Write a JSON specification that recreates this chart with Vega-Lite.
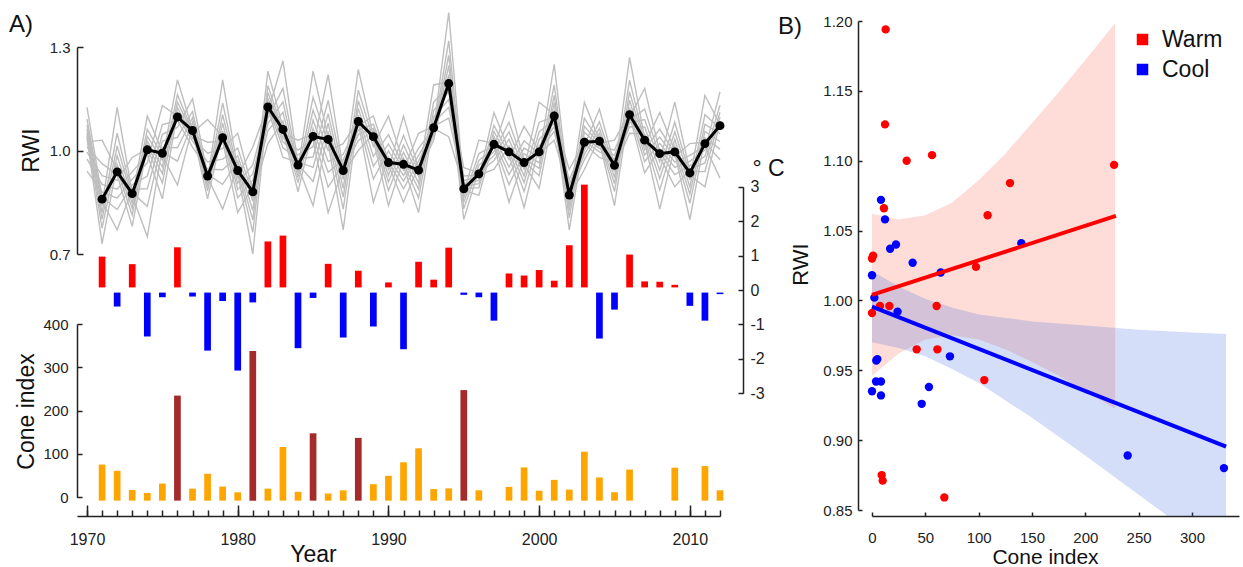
{
"$schema": "https://vega.github.io/schema/vega-lite/v6.json",
"width": 1166,
"height": 506,
"autosize": {"type": "none"},
"padding": {"left": 77, "top": 10, "right": 0, "bottom": 51},
"background": "white",
"config": {
  "font": "Liberation Sans",
  "view": {"stroke": null},
  "axis": {"grid": false, "domainColor": "#222", "domainWidth": 1.5, "tickColor": "#222", "tickWidth": 1.5, "labelColor": "#222", "labelFontSize": 15, "labelFlush": false, "labelOverlap": false, "titleFontWeight": "normal", "titleColor": "#111"}
},
"datasets": {
  "years": [
    {"year":1971,"rwi":0.859,"temp":0.97,"cone":67.8,"regime":"Warm","mast":"no"},
    {"year":1972,"rwi":0.938,"temp":-0.48,"cone":53.4,"regime":"Cool","mast":"no"},
    {"year":1973,"rwi":0.875,"temp":0.75,"cone":9.1,"regime":"Warm","mast":"no"},
    {"year":1974,"rwi":1.002,"temp":-1.35,"cone":2.2,"regime":"Cool","mast":"no"},
    {"year":1975,"rwi":0.992,"temp":-0.21,"cone":24,"regime":"Cool","mast":"no"},
    {"year":1976,"rwi":1.097,"temp":1.24,"cone":227,"regime":"Warm","mast":"yes"},
    {"year":1977,"rwi":1.058,"temp":-0.19,"cone":12.2,"regime":"Cool","mast":"no"},
    {"year":1978,"rwi":0.926,"temp":-1.76,"cone":46.6,"regime":"Cool","mast":"no"},
    {"year":1979,"rwi":1.037,"temp":-0.32,"cone":17,"regime":"Cool","mast":"no"},
    {"year":1980,"rwi":0.942,"temp":-2.34,"cone":3.8,"regime":"Cool","mast":"no"},
    {"year":1981,"rwi":0.880,"temp":-0.36,"cone":330,"regime":"Cool","mast":"yes"},
    {"year":1982,"rwi":1.126,"temp":1.41,"cone":12.2,"regime":"Warm","mast":"no"},
    {"year":1983,"rwi":1.061,"temp":1.58,"cone":108.4,"regime":"Warm","mast":"no"},
    {"year":1984,"rwi":0.958,"temp":-1.69,"cone":5,"regime":"Cool","mast":"no"},
    {"year":1985,"rwi":1.041,"temp":-0.23,"cone":140,"regime":"Cool","mast":"yes"},
    {"year":1986,"rwi":1.032,"temp":0.76,"cone":1,"regime":"Warm","mast":"no"},
    {"year":1987,"rwi":0.942,"temp":-1.38,"cone":8.4,"regime":"Cool","mast":"no"},
    {"year":1988,"rwi":1.084,"temp":0.56,"cone":129.4,"regime":"Warm","mast":"yes"},
    {"year":1989,"rwi":1.040,"temp":-1.06,"cone":22.5,"regime":"Cool","mast":"no"},
    {"year":1990,"rwi":0.965,"temp":0.22,"cone":41.9,"regime":"Warm","mast":"no"},
    {"year":1991,"rwi":0.960,"temp":-1.72,"cone":73.1,"regime":"Cool","mast":"no"},
    {"year":1992,"rwi":0.943,"temp":0.82,"cone":105.3,"regime":"Warm","mast":"no"},
    {"year":1993,"rwi":1.066,"temp":0.30,"cone":11.2,"regime":"Warm","mast":"no"},
    {"year":1994,"rwi":1.194,"temp":1.23,"cone":12.8,"regime":"Warm","mast":"no"},
    {"year":1995,"rwi":0.889,"temp":-0.14,"cone":239.7,"regime":"Cool","mast":"yes"},
    {"year":1996,"rwi":0.932,"temp":-0.21,"cone":8.4,"regime":"Cool","mast":"no"},
    {"year":1997,"rwi":1.018,"temp":-0.89,"cone":0,"regime":"Cool","mast":"no"},
    {"year":1998,"rwi":0.996,"temp":0.48,"cone":16.3,"regime":"Warm","mast":"no"},
    {"year":1999,"rwi":0.965,"temp":0.42,"cone":61.3,"regime":"Warm","mast":"no"},
    {"year":2000,"rwi":0.996,"temp":0.58,"cone":7.5,"regime":"Warm","mast":"no"},
    {"year":2001,"rwi":1.100,"temp":0.27,"cone":32.5,"regime":"Warm","mast":"no"},
    {"year":2002,"rwi":0.871,"temp":1.30,"cone":10,"regime":"Warm","mast":"no"},
    {"year":2003,"rwi":1.024,"temp":3.06,"cone":97.5,"regime":"Warm","mast":"no"},
    {"year":2004,"rwi":1.027,"temp":-1.41,"cone":38.1,"regime":"Cool","mast":"no"},
    {"year":2005,"rwi":0.957,"temp":-0.57,"cone":4,"regime":"Cool","mast":"no"},
    {"year":2006,"rwi":1.104,"temp":1.03,"cone":56.3,"regime":"Warm","mast":"no"},
    {"year":2007,"rwi":1.030,"temp":0.25,"cone":0,"regime":"Warm","mast":"no"},
    {"year":2008,"rwi":0.991,"temp":0.24,"cone":0,"regime":"Warm","mast":"no"},
    {"year":2009,"rwi":0.996,"temp":0.15,"cone":60.6,"regime":"Warm","mast":"no"},
    {"year":2010,"rwi":0.935,"temp":-0.46,"cone":0,"regime":"Cool","mast":"no"},
    {"year":2011,"rwi":1.020,"temp":-0.89,"cone":64.4,"regime":"Cool","mast":"no"},
    {"year":2012,"rwi":1.072,"temp":-0.12,"cone":8.4,"regime":"Cool","mast":"no"}
  ],
  "rings": [
    {"year":1970,"g1":1.125,"g2":1.091,"g3":1.074,"g4":1.061,"g5":1.050,"g6":1.043,"g7":1.035,"g8":1.025,"g9":1.010,"g10":0.995,"g11":0.975,"g12":0.940},
    {"year":1971,"g1":0.864,"g2":0.853,"g3":0.840,"g4":0.820,"g5":0.801,"g6":0.775,"g7":0.730,"g8":1.030,"g9":0.962,"g10":0.927,"g11":0.902,"g12":0.880},
    {"year":1972,"g1":0.829,"g2":0.770,"g3":1.125,"g4":1.050,"g5":1.013,"g6":0.985,"g7":0.960,"g8":0.944,"g9":0.930,"g10":0.913,"g11":0.888,"g12":0.862},
    {"year":1973,"g1":0.901,"g2":0.888,"g3":0.878,"g4":0.870,"g5":0.861,"g6":0.847,"g7":0.832,"g8":0.813,"g9":0.780,"g10":0.980,"g11":0.938,"g12":0.917},
    {"year":1974,"g1":0.926,"g2":0.889,"g3":0.838,"g4":0.750,"g5":1.100,"g6":1.061,"g7":1.041,"g8":1.027,"g9":1.014,"g10":1.005,"g11":0.989,"g12":0.964},
    {"year":1975,"g1":1.075,"g2":1.047,"g3":1.027,"g4":1.009,"g5":0.996,"g6":0.985,"g7":0.972,"g8":0.952,"g9":0.933,"g10":0.906,"g11":0.860,"g12":1.130},
    {"year":1976,"g1":1.087,"g2":1.067,"g3":1.038,"g4":1.008,"g5":0.969,"g6":0.900,"g7":1.205,"g8":1.162,"g9":1.140,"g10":1.124,"g11":1.110,"g12":1.100},
    {"year":1977,"g1":1.010,"g2":1.150,"g3":1.113,"g4":1.095,"g5":1.081,"g6":1.069,"g7":1.061,"g8":1.056,"g9":1.051,"g10":1.044,"g11":1.036,"g12":1.027},
    {"year":1978,"g1":0.946,"g2":0.931,"g3":0.923,"g4":0.916,"g5":0.906,"g6":0.896,"g7":0.883,"g8":0.860,"g9":1.090,"g10":1.024,"g11":0.992,"g12":0.967},
    {"year":1979,"g1":0.944,"g2":0.902,"g3":0.830,"g4":1.205,"g5":1.138,"g6":1.104,"g7":1.079,"g8":1.057,"g9":1.042,"g10":1.027,"g11":1.006,"g12":0.975},
    {"year":1980,"g1":0.985,"g2":0.969,"g3":0.955,"g4":0.945,"g5":0.936,"g6":0.924,"g7":0.905,"g8":0.887,"g9":0.863,"g10":0.820,"g11":1.050,"g12":1.007},
    {"year":1981,"g1":0.853,"g2":0.826,"g3":0.799,"g4":0.763,"g5":0.700,"g6":1.010,"g7":0.958,"g8":0.932,"g9":0.913,"g10":0.896,"g11":0.884,"g12":0.871},
    {"year":1982,"g1":1.230,"g2":1.188,"g3":1.168,"g4":1.152,"g5":1.138,"g6":1.129,"g7":1.121,"g8":1.110,"g9":1.094,"g10":1.078,"g11":1.057,"g12":1.020},
    {"year":1983,"g1":1.067,"g2":1.057,"g3":1.049,"g4":1.037,"g5":1.025,"g6":1.008,"g7":0.980,"g8":1.260,"g9":1.180,"g10":1.141,"g11":1.111,"g12":1.085},
    {"year":1984,"g1":0.907,"g2":0.880,"g3":1.030,"g4":1.001,"g5":0.987,"g6":0.976,"g7":0.967,"g8":0.960,"g9":0.954,"g10":0.946,"g11":0.935,"g12":0.923},
    {"year":1985,"g1":1.088,"g2":1.064,"g3":1.047,"g4":1.031,"g5":1.011,"g6":0.981,"g7":0.951,"g8":0.910,"g9":0.840,"g10":1.230,"g11":1.154,"g12":1.117},
    {"year":1986,"g1":0.968,"g2":0.937,"g3":0.894,"g4":0.820,"g5":1.220,"g6":1.145,"g7":1.107,"g8":1.079,"g9":1.055,"g10":1.038,"g11":1.021,"g12":1.000},
    {"year":1987,"g1":0.989,"g2":0.973,"g3":0.962,"g4":0.951,"g5":0.944,"g6":0.933,"g7":0.916,"g8":0.890,"g9":0.865,"g10":0.830,"g11":0.770,"g12":1.020},
    {"year":1988,"g1":1.080,"g2":1.071,"g3":1.059,"g4":1.046,"g5":1.029,"g6":1.000,"g7":1.235,"g8":1.175,"g9":1.144,"g10":1.122,"g11":1.102,"g12":1.089},
    {"year":1989,"g1":0.850,"g2":1.100,"g3":1.076,"g4":1.064,"g5":1.055,"g6":1.047,"g7":1.042,"g8":1.031,"g9":1.012,"g10":0.983,"g11":0.955,"g12":0.917},
    {"year":1990,"g1":0.981,"g2":0.969,"g3":0.959,"g4":0.946,"g5":0.928,"g6":0.909,"g7":0.884,"g8":0.840,"g9":1.100,"g10":1.046,"g11":1.019,"g12":0.999},
    {"year":1991,"g1":0.911,"g2":0.889,"g3":0.850,"g4":1.100,"g5":1.044,"g6":1.016,"g7":0.995,"g8":0.977,"g9":0.964,"g10":0.955,"g11":0.944,"g12":0.927},
    {"year":1992,"g1":0.986,"g2":0.970,"g3":0.956,"g4":0.946,"g5":0.937,"g6":0.925,"g7":0.906,"g8":0.888,"g9":0.863,"g10":0.820,"g11":1.050,"g12":1.007},
    {"year":1993,"g1":1.061,"g2":1.055,"g3":1.050,"g4":1.043,"g5":1.030,"g6":1.190,"g7":1.140,"g8":1.116,"g9":1.097,"g10":1.081,"g11":1.070,"g12":1.064},
    {"year":1994,"g1":1.400,"g2":1.318,"g3":1.276,"g4":1.246,"g5":1.219,"g6":1.200,"g7":1.186,"g8":1.171,"g9":1.148,"g10":1.125,"g11":1.094,"g12":1.040},
    {"year":1995,"g1":0.891,"g2":0.885,"g3":0.876,"g4":0.862,"g5":0.849,"g6":0.831,"g7":0.800,"g8":0.950,"g9":0.926,"g10":0.913,"g11":0.904,"g12":0.896},
    {"year":1996,"g1":0.892,"g2":0.870,"g3":1.030,"g4":0.991,"g5":0.971,"g6":0.957,"g7":0.944,"g8":0.935,"g9":0.929,"g10":0.923,"g11":0.913,"g12":0.904},
    {"year":1997,"g1":1.041,"g2":1.029,"g3":1.021,"g4":1.014,"g5":1.007,"g6":0.996,"g7":0.985,"g8":0.971,"g9":0.945,"g10":1.110,"g11":1.073,"g12":1.055},
    {"year":1998,"g1":0.952,"g2":0.930,"g3":0.901,"g4":0.850,"g5":1.140,"g6":1.082,"g7":1.054,"g8":1.032,"g9":1.013,"g10":1.000,"g11":0.989,"g12":0.974},
    {"year":1999,"g1":1.028,"g2":1.007,"g3":0.991,"g4":0.978,"g5":0.968,"g6":0.959,"g7":0.946,"g8":0.926,"g9":0.907,"g10":0.881,"g11":0.835,"g12":1.070},
    {"year":2000,"g1":0.991,"g2":0.980,"g3":0.964,"g4":0.948,"g5":0.927,"g6":0.890,"g7":1.140,"g8":1.082,"g9":1.054,"g10":1.032,"g11":1.013,"g12":1.000},
    {"year":2001,"g1":1.030,"g2":1.250,"g3":1.190,"g4":1.160,"g5":1.138,"g6":1.118,"g7":1.105,"g8":1.097,"g9":1.090,"g10":1.079,"g11":1.069,"g12":1.055},
    {"year":2002,"g1":0.880,"g2":0.873,"g3":0.866,"g4":0.856,"g5":0.841,"g6":0.826,"g7":0.805,"g8":0.770,"g9":0.945,"g10":0.915,"g11":0.901,"g12":0.890},
    {"year":2003,"g1":0.988,"g2":0.973,"g3":0.945,"g4":1.140,"g5":1.094,"g6":1.070,"g7":1.053,"g8":1.038,"g9":1.027,"g10":1.020,"g11":1.012,"g12":1.000},
    {"year":2004,"g1":1.064,"g2":1.050,"g3":1.038,"g4":1.030,"g5":1.025,"g6":1.020,"g7":1.013,"g8":1.006,"g9":0.996,"g10":0.980,"g11":1.120,"g12":1.083},
    {"year":2005,"g1":0.939,"g2":0.922,"g3":0.904,"g4":0.881,"g5":0.840,"g6":1.030,"g7":1.001,"g8":0.986,"g9":0.975,"g10":0.966,"g11":0.959,"g12":0.951},
    {"year":2006,"g1":1.270,"g2":1.204,"g3":1.170,"g4":1.146,"g5":1.124,"g6":1.109,"g7":1.101,"g8":1.096,"g9":1.088,"g10":1.080,"g11":1.069,"g12":1.050},
    {"year":2007,"g1":1.035,"g2":1.025,"g3":1.016,"g4":1.002,"g5":0.987,"g6":0.968,"g7":0.935,"g8":1.180,"g9":1.120,"g10":1.090,"g11":1.068,"g12":1.048},
    {"year":2008,"g1":0.886,"g2":0.830,"g3":1.110,"g4":1.062,"g5":1.039,"g6":1.021,"g7":1.005,"g8":0.995,"g9":0.983,"g10":0.967,"g11":0.943,"g12":0.919},
    {"year":2009,"g1":1.032,"g2":1.013,"g3":1.000,"g4":0.991,"g5":0.981,"g6":0.966,"g7":0.951,"g8":0.930,"g9":0.895,"g10":1.140,"g11":1.082,"g12":1.054},
    {"year":2010,"g1":0.895,"g2":0.874,"g3":0.847,"g4":0.800,"g5":1.020,"g6":0.986,"g7":0.969,"g8":0.956,"g9":0.945,"g10":0.938,"g11":0.928,"g12":0.915},
    {"year":2011,"g1":1.104,"g2":1.076,"g3":1.055,"g4":1.037,"g5":1.024,"g6":1.014,"g7":1.001,"g8":0.983,"g9":0.964,"g10":0.939,"g11":0.895,"g12":1.160},
    {"year":2012,"g1":1.064,"g2":1.049,"g3":1.026,"g4":1.004,"g5":0.973,"g6":0.920,"g7":1.170,"g8":1.131,"g9":1.111,"g10":1.097,"g11":1.084,"g12":1.075}
  ],
  "bands": [
    {"regime":"Warm","cone":0,"lo":0.946,"hi":1.062},
    {"regime":"Warm","cone":25,"lo":0.962,"hi":1.058},
    {"regime":"Warm","cone":50,"lo":0.972,"hi":1.061},
    {"regime":"Warm","cone":75,"lo":0.975,"hi":1.070},
    {"regime":"Warm","cone":100,"lo":0.972,"hi":1.086},
    {"regime":"Warm","cone":125,"lo":0.965,"hi":1.105},
    {"regime":"Warm","cone":150,"lo":0.956,"hi":1.127},
    {"regime":"Warm","cone":175,"lo":0.946,"hi":1.149},
    {"regime":"Warm","cone":200,"lo":0.935,"hi":1.172},
    {"regime":"Warm","cone":228,"lo":0.9225,"hi":1.1985},
    {"regime":"Cool","cone":0,"lo":0.970,"hi":1.021},
    {"regime":"Cool","cone":25,"lo":0.966,"hi":1.010},
    {"regime":"Cool","cone":50,"lo":0.960,"hi":1.001},
    {"regime":"Cool","cone":75,"lo":0.951,"hi":0.995},
    {"regime":"Cool","cone":100,"lo":0.941,"hi":0.990},
    {"regime":"Cool","cone":150,"lo":0.916,"hi":0.985},
    {"regime":"Cool","cone":200,"lo":0.889,"hi":0.982},
    {"regime":"Cool","cone":250,"lo":0.861,"hi":0.979},
    {"regime":"Cool","cone":300,"lo":0.833,"hi":0.977},
    {"regime":"Cool","cone":332,"lo":0.814,"hi":0.976}
  ],
  "fits": [
    {"regime":"Warm","cone":0,"rwi":1.004},
    {"regime":"Warm","cone":228.7,"rwi":1.0605},
    {"regime":"Cool","cone":0,"rwi":0.9956},
    {"regime":"Cool","cone":332,"rwi":0.8953}
  ]
},
"layer": [
  {
    "data": {"name": "years"},
    "encoding": {
      "x": {"field": "year", "type": "quantitative", "scale": {"domain": [1969.336, 2012], "range": [0, 643], "nice": false, "zero": false},
            "axis": {"orient": "bottom", "values": [1970,1971,1972,1973,1974,1975,1976,1977,1978,1979,1980,1981,1982,1983,1984,1985,1986,1987,1988,1989,1990,1991,1992,1993,1994,1995,1996,1997,1998,1999,2000,2001,2002,2003,2004,2005,2006,2007,2008,2009,2010,2011,2012], "tickSize": -6, "labels": false, "domain": false, "title": null}},
      "y": {"field": "temp", "type": "quantitative", "scale": {"domain": [-3, 3], "range": [383.3, 176.7], "nice": false, "zero": false},
            "axis": {"orient": "right", "offset": -500, "values": [-3,-2,-1,0,1,2,3], "labelExpr": "'' + datum.value", "tickSize": -5, "labelPadding": 12, "labelFontSize": 16, "labelAlign": "left", "title": "° C", "titleFontSize": 23, "titleX": 25, "titleY": 158, "titleAngle": 0, "titleAlign": "center", "titleBaseline": "middle"}}
    },
    "layer": [
      {"transform": [{"filter": "datum.temp > 0"}],
       "mark": {"type": "rule", "color": "#ff0000", "strokeWidth": 6.7, "strokeCap": "butt"},
       "encoding": {"y2": {"datum": 0.075}}},
      {"transform": [{"filter": "datum.temp < 0"}],
       "mark": {"type": "rule", "color": "#0000ff", "strokeWidth": 6.7, "strokeCap": "butt"},
       "encoding": {"y2": {"datum": -0.075}}}
    ]
  },
  {
    "data": {"name": "years"},
    "transform": [{"filter": "datum.cone > 0"}],
    "encoding": {
      "x": {"field": "year", "type": "quantitative", "scale": {"domain": [1969.336, 2012], "range": [0, 643], "nice": false, "zero": false}, "axis": null},
      "y": {"field": "cone", "type": "quantitative", "scale": {"domain": [0, 400], "range": [487.3, 314], "nice": false, "zero": false},
            "axis": {"orient": "left", "values": [0,100,200,300,400], "tickSize": -5, "labelPadding": 14, "title": "Cone index", "titleFontSize": 23, "titleX": -51, "titleY": 401, "titleAngle": -90, "titleAlign": "center", "titleBaseline": "middle"}},
      "y2": {"datum": 0}
    },
    "layer": [
      {"transform": [{"filter": "datum.mast === 'no'"}],
       "mark": {"type": "rule", "color": "#ffa500", "strokeWidth": 6.7, "strokeCap": "square"}},
      {"transform": [{"filter": "datum.mast === 'yes'"}],
       "mark": {"type": "rule", "color": "#a52a2a", "strokeWidth": 6.7, "strokeCap": "square"}}
    ]
  },
  {
    "data": {"name": "rings"},
    "transform": [{"fold": ["g1","g2","g3","g4","g5","g6","g7","g8","g9","g10","g11","g12"], "as": ["series", "val"]}],
    "mark": {"type": "line", "color": "#bebebe", "strokeWidth": 1.4},
    "encoding": {
      "x": {"field": "year", "type": "quantitative", "scale": {"domain": [1969.336, 2012], "range": [0, 643], "nice": false, "zero": false},
            "axis": {"orient": "bottom", "values": [1970,1980,1990,2000,2010], "labelExpr": "'' + datum.value", "tickSize": -11, "labelPadding": 26, "labelFontSize": 16, "title": "Year", "titleFontSize": 23, "titleX": 236, "titleY": 38, "titleAngle": 0, "titleAlign": "center", "titleBaseline": "middle"}},
      "y": {"field": "val", "type": "quantitative", "scale": {"domain": [0.7, 1.3], "range": [244, 37], "nice": false, "zero": false},
            "axis": {"orient": "left", "values": [0.7, 1.0, 1.3], "format": ".1f", "tickSize": -6, "labelPadding": 13, "title": "RWI", "titleFontSize": 23, "titleX": -46, "titleY": 140, "titleAngle": -90, "titleAlign": "center", "titleBaseline": "middle"}},
      "detail": {"field": "series", "type": "nominal"}
    }
  },
  {
    "data": {"name": "years"},
    "encoding": {
      "x": {"field": "year", "type": "quantitative", "scale": {"domain": [1969.336, 2012], "range": [0, 643], "nice": false, "zero": false}, "axis": null},
      "y": {"field": "rwi", "type": "quantitative", "scale": {"domain": [0.7, 1.3], "range": [244, 37], "nice": false, "zero": false}, "axis": null}
    },
    "layer": [
      {"mark": {"type": "line", "color": "#000000", "strokeWidth": 3}},
      {"mark": {"type": "circle", "color": "#000000", "size": 80, "opacity": 1}}
    ]
  },
  {
    "data": {"values": [{"panel": "A)", "pos": 1965.62, "level": 1.3638}]},
    "mark": {"type": "text", "fontSize": 24, "align": "center", "baseline": "middle", "color": "#111111"},
    "encoding": {
      "x": {"field": "pos", "type": "quantitative", "scale": {"domain": [1969.336, 2012], "range": [0, 643], "nice": false, "zero": false}, "axis": null},
      "y": {"field": "level", "type": "quantitative", "scale": {"domain": [0.7, 1.3], "range": [244, 37], "nice": false, "zero": false}, "axis": null},
      "text": {"field": "panel"}
    }
  },
  {
    "data": {"name": "bands"},
    "transform": [{"filter": "datum.regime === 'Warm'"}],
    "mark": {"type": "area", "color": "#fa8072", "opacity": 0.28, "clip": true},
    "encoding": {
      "x": {"field": "cone", "type": "quantitative", "scale": {"domain": [0, 344.1], "range": [795, 1162], "nice": false, "zero": false},
            "axis": {"orient": "bottom", "values": [0,50,100,150,200,250,300], "tickSize": -4, "labelPadding": 18, "title": "Cone index", "titleFontSize": 21, "titleX": 968, "titleY": 41, "titleAngle": 0, "titleAlign": "center", "titleBaseline": "middle"}},
      "y": {"field": "lo", "type": "quantitative", "scale": {"domain": [0.85, 1.2], "range": [500, 11], "nice": false, "zero": false},
            "axis": {"orient": "left", "offset": -781, "values": [0.85,0.9,0.95,1.0,1.05,1.1,1.15,1.2], "format": ".2f", "tickSize": -4, "labelPadding": 10, "title": "RWI", "titleFontSize": 22, "titleX": -58, "titleY": 254, "titleAngle": -90, "titleAlign": "center", "titleBaseline": "middle"}},
      "y2": {"field": "hi"}
    }
  },
  {
    "data": {"name": "bands"},
    "transform": [{"filter": "datum.regime === 'Cool'"}],
    "mark": {"type": "area", "color": "#4169e1", "opacity": 0.22, "clip": true},
    "encoding": {
      "x": {"field": "cone", "type": "quantitative", "scale": {"domain": [0, 344.1], "range": [795, 1162], "nice": false, "zero": false}, "axis": null},
      "y": {"field": "lo", "type": "quantitative", "scale": {"domain": [0.85, 1.2], "range": [500, 11], "nice": false, "zero": false}, "axis": null},
      "y2": {"field": "hi"}
    }
  },
  {
    "data": {"name": "years"},
    "mark": {"type": "circle", "size": 70, "opacity": 1},
    "encoding": {
      "x": {"field": "cone", "type": "quantitative", "scale": {"domain": [0, 344.1], "range": [795, 1162], "nice": false, "zero": false}, "axis": null},
      "y": {"field": "rwi", "type": "quantitative", "scale": {"domain": [0.85, 1.2], "range": [500, 11], "nice": false, "zero": false}, "axis": null},
      "color": {"field": "regime", "type": "nominal", "scale": {"domain": ["Warm", "Cool"], "range": ["#ff0000", "#0000ff"]},
                "legend": {"orient": "none", "legendX": 1054, "legendY": 18, "title": null, "symbolType": "square", "symbolSize": 100, "labelFontSize": 23, "labelOffset": 8, "rowPadding": 6, "padding": 0, "labelColor": "#111111"}}
    }
  },
  {
    "data": {"name": "fits"},
    "mark": {"type": "line", "strokeWidth": 4},
    "encoding": {
      "x": {"field": "cone", "type": "quantitative", "scale": {"domain": [0, 344.1], "range": [795, 1162], "nice": false, "zero": false}, "axis": null},
      "y": {"field": "rwi", "type": "quantitative", "scale": {"domain": [0.85, 1.2], "range": [500, 11], "nice": false, "zero": false}, "axis": null},
      "color": {"field": "regime", "type": "nominal", "scale": {"domain": ["Warm", "Cool"], "range": ["#ff0000", "#0000ff"]}, "legend": null}
    }
  },
  {
    "data": {"values": [{"panel": "B)", "pos": -76.9, "level": 1.196}]},
    "mark": {"type": "text", "fontSize": 24, "align": "center", "baseline": "middle", "color": "#111111"},
    "encoding": {
      "x": {"field": "pos", "type": "quantitative", "scale": {"domain": [0, 344.1], "range": [795, 1162], "nice": false, "zero": false}, "axis": null},
      "y": {"field": "level", "type": "quantitative", "scale": {"domain": [0.85, 1.2], "range": [500, 11], "nice": false, "zero": false}, "axis": null},
      "text": {"field": "panel"}
    }
  }
],
"resolve": {"scale": {"x": "independent", "y": "independent"}}
}
